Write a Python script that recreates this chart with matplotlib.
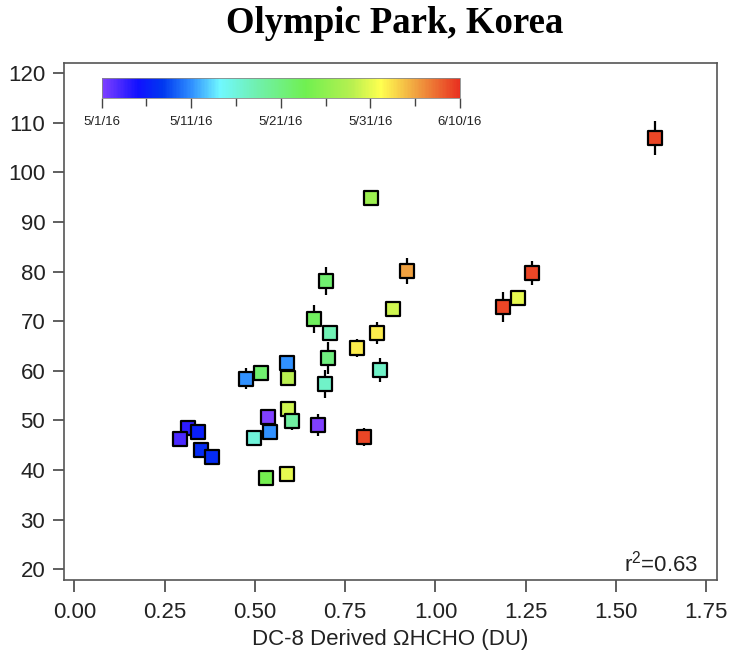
import numpy as np
import pandas as pd
import matplotlib
matplotlib.use("Agg")
import matplotlib.pyplot as plt
import matplotlib.dates as mdates
from matplotlib.colors import LinearSegmentedColormap
from matplotlib.ticker import MultipleLocator

plt.rcParams['font.family'] = ['Liberation Sans', 'DejaVu Sans']
plt.rcParams['mathtext.fontset'] = 'custom'
plt.rcParams['mathtext.rm'] = 'Liberation Sans'

# DC-8 derived HCHO column vs. ground site HCHO, coloured by flight date
hcho_dc8 = [0.314, 0.292, 0.342, 0.350, 0.381, 1.608, 0.821, 0.921, 1.267, 1.229,
            1.187, 0.697, 0.882, 0.663, 0.708, 0.838, 0.783, 0.702, 0.846, 0.589,
            0.591, 0.475, 0.517, 0.694, 0.591, 0.602, 0.536, 0.675, 0.542, 0.497,
            0.802, 0.530, 0.589]
hcho_site = [48.5, 46.3, 47.7, 44.1, 42.6, 106.9, 94.9, 80.1, 79.7, 74.7,
             72.9, 78.1, 72.5, 70.5, 67.6, 67.6, 64.6, 62.6, 60.2, 61.6,
             58.6, 58.4, 59.6, 57.4, 52.3, 49.9, 50.7, 49.1, 47.7, 46.5,
             46.7, 38.4, 39.2]
hcho_err = [1.0, 1.0, 1.0, 1.0, 1.0, 3.4, 1.0, 2.6, 2.4, 1.0,
            3.0, 2.8, 1.0, 2.8, 1.5, 2.2, 1.8, 3.2, 2.5, 1.0,
            1.0, 2.1, 1.2, 2.8, 1.0, 1.8, 1.0, 2.2, 1.0, 1.0,
            1.8, 1.2, 1.2]
flight_dates = ["2016-05-04", "2016-05-03", "2016-05-06", "2016-05-07", "2016-05-07",
                "2016-06-09", "2016-05-27", "2016-06-05", "2016-06-09", "2016-05-31",
                "2016-06-09", "2016-05-22", "2016-05-30", "2016-05-23", "2016-05-18",
                "2016-06-02", "2016-06-02", "2016-05-21", "2016-05-17", "2016-05-11",
                "2016-05-29", "2016-05-11", "2016-05-22", "2016-05-17", "2016-05-30",
                "2016-05-19", "2016-05-01", "2016-05-01", "2016-05-11", "2016-05-16",
                "2016-06-09", "2016-05-24", "2016-05-31"]
cbar_labels = ['5/1/16', '5/11/16', '5/21/16', '5/31/16', '6/10/16']
r2_text = r'r$^{\mathregular{2}}$=0.63'

date_num = mdates.date2num(pd.to_datetime(flight_dates))
d0 = mdates.date2num(pd.Timestamp("2016-05-01"))
d1 = mdates.date2num(pd.Timestamp("2016-06-10"))

rainbow = LinearSegmentedColormap.from_list("igor_rainbow", [
    (0.00, "#8040ff"), (0.10, "#1010ff"), (0.17, "#0038f0"), (0.25, "#3090ff"),
    (0.33, "#70f8ff"), (0.43, "#70f0b0"), (0.57, "#70f050"), (0.70, "#b8f050"),
    (0.78, "#ffff50"), (0.88, "#f0a040"), (1.00, "#e83020")])

fig = plt.figure(figsize=(7.3, 6.64), dpi=100)
ax = fig.add_axes([0.0877, 0.1265, 0.8941, 0.7791])

ax.errorbar(hcho_dc8, hcho_site, yerr=hcho_err, fmt='none', ecolor='black',
            elinewidth=1.6, capsize=0, zorder=2)
ax.scatter(hcho_dc8, hcho_site, c=date_num, cmap=rainbow, vmin=d0, vmax=d1,
           marker='s', s=105, edgecolors='black', linewidths=1.6, zorder=3)

ax.set_xlim(-0.029, 1.779)
ax.set_ylim(17.84, 122.14)
ax.xaxis.set_major_locator(MultipleLocator(0.25))
ax.yaxis.set_major_locator(MultipleLocator(10))
ax.xaxis.set_major_formatter(matplotlib.ticker.FormatStrFormatter('%.2f'))
ax.tick_params(axis='both', direction='out', labelsize=16, color='#444444',
               width=1.2, labelcolor='#222222')
ax.tick_params(axis='x', length=8.5, pad=7)
ax.tick_params(axis='y', length=8, pad=5.5)
for sp in ax.spines.values():
    sp.set_color('#555555')
    sp.set_linewidth(1.2)

ax.set_xlabel('DC-8 Derived ΩHCHO (DU)', fontsize=16, color='#222222', labelpad=5)
ax.text(0.971, 0.017, r2_text, transform=ax.transAxes, ha='right', va='baseline',
        fontsize=16, color='#222222')

fig.text(0.541, 0.950, 'Olympic Park, Korea', ha='center', va='baseline',
         fontsize=26.5, fontweight='bold', family='Liberation Serif')

# date colour bar inset
cax = fig.add_axes([0.1393, 0.8529, 0.4908, 0.0301])
sm = plt.cm.ScalarMappable(cmap=rainbow, norm=plt.Normalize(d0, d1))
cb = fig.colorbar(sm, cax=cax, orientation='horizontal')
cb.outline.set_edgecolor('#888888')
cb.outline.set_linewidth(0.6)
cax.set_xticks(np.arange(d0, d1 + 1, 10))
cax.set_xticks(np.arange(d0 + 5, d1, 10), minor=True)
cax.set_xticklabels(cbar_labels)
cax.tick_params(axis='x', which='major', length=7, width=1, labelsize=9.5,
                color='#444444', labelcolor='#222222', pad=6)
cax.tick_params(axis='x', which='minor', length=5.5, width=1, color='#444444')

fig.savefig('out.png', dpi=100)
